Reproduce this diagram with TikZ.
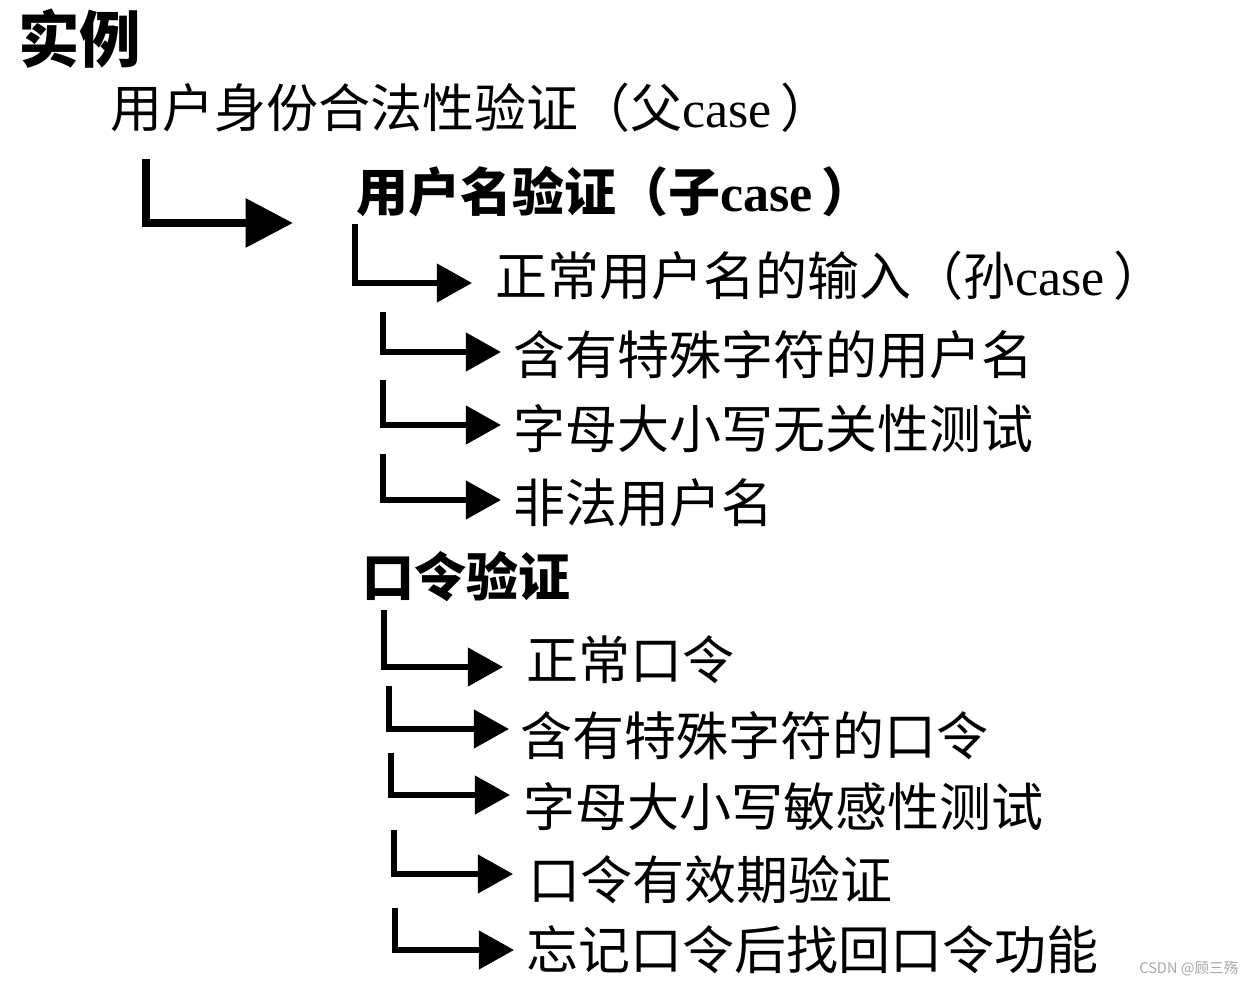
\documentclass[tikz,border=0pt]{standalone}
\usepackage{fontspec}
\setmainfont{Liberation Serif}
\newfontfamily\cjk{Noto Sans CJK SC}
\usetikzlibrary{arrows.meta,calc,positioning}

\begin{document}
\begin{tikzpicture}[x=0.02cm, y=-0.02cm,
    every node/.style={inner sep=0pt, anchor=west},
    item/.style={font=\cjk\fontsize{29.6}{30}\selectfont},
    head/.style={font=\cjk\bfseries\fontsize{29.6}{30}\selectfont},
    bigarr/.style={line width=4.6pt, -{Triangle[length=27pt,width=27pt]}},
    arr/.style={line width=3pt, -{Triangle[length=20pt,width=21.5pt]}}]
  \useasboundingbox (0,0) rectangle (1250,986);
  % titles
  \node[font=\cjk\bfseries\fontsize{35}{36}\selectfont] (title) at (18,39) {实例};
  \node[item] (root) at (110,108) {用户身份合法性验证（父{\rmfamily case}\,）};
  \node[head] (usr) at (356,192) {用户名验证（子{\rmfamily case}\,）};
  \node[item] (usr1) at (495,276) {正常用户名的输入（孙{\rmfamily case}\,）};
  \node[item] (usr2) at (513,355) {含有特殊字符的用户名};
  \node[item] (usr3) at (513,429) {字母大小写无关性测试};
  \node[item] (usr4) at (513,503) {非法用户名};
  \node[head] (pwd) at (362,577) {口令验证};
  \node[item] (pwd1) at (526,660) {正常口令};
  \node[item] (pwd2) at (520,736) {含有特殊字符的口令};
  \node[item] (pwd3) at (523,807) {字母大小写敏感性测试};
  \node[item] (pwd4) at (528,880) {口令有效期验证};
  \node[item] (pwd5) at (526,950) {忘记口令后找回口令功能};
  \node[font=\cjk\fontsize{8.3}{9}\selectfont, text=gray!70] (mark) at (1139,969) {CSDN @顾三殇};
  % connectors
  \coordinate (s1) at (146,159);
  \coordinate (s2) at (355,224);
  \coordinate (s3) at (383,312);
  \coordinate (s4) at (383,380);
  \coordinate (s5) at (383,454);
  \coordinate (s6) at (384,610);
  \coordinate (s7) at (389,686);
  \coordinate (s8) at (391,753);
  \coordinate (s9) at (394,830);
  \coordinate (s10) at (395,908);
  \draw[bigarr] (s1) |- ($(usr.west)+(-63,31)$);
  \draw[arr] (s2) |- ($(usr1.west)+(-23,7)$);
  \draw[arr] (s3) |- ($(usr2.west)+(-12,-3)$);
  \draw[arr] (s4) |- ($(usr3.west)+(-12,-4)$);
  \draw[arr] (s5) |- ($(usr4.west)+(-12,-3)$);
  \draw[arr] (s6) |- ($(pwd1.west)+(-23,7)$);
  \draw[arr] (s7) |- ($(pwd2.west)+(-11,-7)$);
  \draw[arr] (s8) |- ($(pwd3.west)+(-13,-12)$);
  \draw[arr] (s9) |- ($(pwd4.west)+(-15,-6)$);
  \draw[arr] (s10) |- ($(pwd5.west)+(-12,0)$);
\end{tikzpicture}
\end{document}
